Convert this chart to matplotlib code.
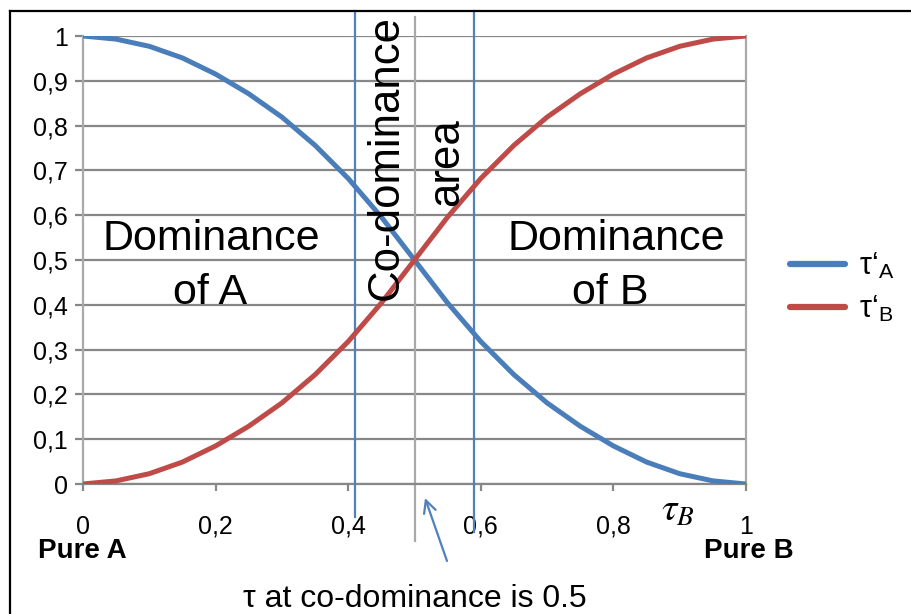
import matplotlib
matplotlib.use("Agg")
import matplotlib.pyplot as plt
from matplotlib.lines import Line2D

plt.rcParams["font.family"] = ["Liberation Sans", "DejaVu Sans"]
plt.rcParams["mathtext.fontset"] = "stix"

# values
tau_b = [0.0, 0.05, 0.1, 0.15, 0.2, 0.25, 0.3, 0.35, 0.4, 0.45, 0.5,
         0.55, 0.6, 0.65, 0.7, 0.75, 0.8, 0.85, 0.9, 0.95, 1.0]
tau_a_prime = [1.0, 0.993, 0.977, 0.951, 0.915, 0.871, 0.819, 0.756, 0.682, 0.596, 0.5,
               0.404, 0.318, 0.244, 0.181, 0.129, 0.085, 0.049, 0.023, 0.007, 0.0]
tau_b_prime = [0.0, 0.007, 0.023, 0.049, 0.085, 0.129, 0.181, 0.244, 0.318, 0.404, 0.5,
               0.596, 0.682, 0.756, 0.819, 0.871, 0.915, 0.951, 0.977, 0.993, 1.0]

x_ticks = [0, 0.2, 0.4, 0.6, 0.8, 1.0]
x_labels = ["0", "0,2", "0,4", "0,6", "0,8", "1"]
y_ticks = [0, 0.1, 0.2, 0.3, 0.4, 0.5, 0.6, 0.7, 0.8, 0.9, 1.0]
y_labels = ["0", "0,1", "0,2", "0,3", "0,4", "0,5", "0,6", "0,7", "0,8", "0,9", "1"]

codom_lo, codom_mid, codom_hi = 0.41, 0.5, 0.59

BLUE, RED = "#4a7ebb", "#be4b48"
VLINE = "#4f81bd"
GRID, LIGHT = "#878787", "#a9a9a9"

W, H = 912, 614


def fx(px):
    return px / W


def fy(py):
    return 1 - py / H


fig = plt.figure(figsize=(9.12, 6.14), dpi=100)
ax = fig.add_axes([fx(83), fy(484), 663 / W, 448 / H])

ax.plot(tau_b, tau_a_prime, color=BLUE, linewidth=3.6, solid_capstyle="butt",
        solid_joinstyle="round", label="τ‘$_\\mathregular{A}$", zorder=4)
ax.plot(tau_b, tau_b_prime, color=RED, linewidth=3.6, solid_capstyle="butt",
        solid_joinstyle="round", label="τ‘$_\\mathregular{B}$", zorder=4)

ax.set_xlim(0, 1)
ax.set_ylim(0, 1)
ax.set_xticks(x_ticks, x_labels)
ax.set_yticks(y_ticks, y_labels)
ax.grid(axis="y", color=GRID, linewidth=1.6)
ax.set_axisbelow(True)
ax.tick_params(axis="x", length=5, width=1.6, color=GRID, pad=17, labelsize=18)
ax.tick_params(axis="y", length=6, width=1.6, color=GRID, pad=5, labelsize=18)
ax.spines["top"].set_visible(False)
for side in ("left", "right", "bottom"):
    ax.spines[side].set_color(GRID)
    ax.spines[side].set_linewidth(1.6)
ax.spines["left"].set_color(LIGHT)
ax.spines["right"].set_color(LIGHT)

# co-dominance bounds, running past the axes
tr = ax.get_xaxis_transform()
ax.plot([codom_lo, codom_lo], [1.056, -0.074], transform=tr, color=VLINE,
        linewidth=1.6, clip_on=False, zorder=3)
ax.plot([codom_hi, codom_hi], [1.056, -0.107], transform=tr, color=VLINE,
        linewidth=1.6, clip_on=False, zorder=3)
ax.plot([codom_mid, codom_mid], [1.042, -0.127], transform=tr, color=LIGHT,
        linewidth=1.6, clip_on=False, zorder=2)

# region labels
big = dict(fontsize=31, ha="center", va="baseline")
fig.text(fx(211), fy(250), "Dominance", **big)
fig.text(fx(210), fy(304), "of A", **big)
fig.text(fx(616), fy(250), "Dominance", **big)
fig.text(fx(610), fy(304), "of B", **big)
fig.text(fx(398), fy(157), "Co-dominance", fontsize=31.5, rotation=90,
         rotation_mode="anchor", ha="center", va="baseline")
fig.text(fx(458), fy(162), "area", fontsize=31.5, rotation=90,
         rotation_mode="anchor", ha="center", va="baseline")

fig.text(fx(82), fy(558), "Pure A", fontsize=20, fontweight="bold",
         ha="center", va="baseline")
fig.text(fx(749), fy(558), "Pure B", fontsize=20, fontweight="bold",
         ha="center", va="baseline")
fig.text(fx(678), fy(511), r"$\tau_B$", fontsize=28, ha="center", va="center")

fig.text(fx(415), fy(607), "τ at co-dominance is 0.5", fontsize=23,
         ha="center", va="baseline")
ax.annotate("", xy=(fx(425), fy(498)), xycoords="figure fraction",
            xytext=(fx(447), fy(561)), textcoords="figure fraction",
            arrowprops=dict(arrowstyle="->", color=VLINE, lw=1.6,
                            mutation_scale=22, shrinkA=0, shrinkB=0))

leg = ax.legend(loc="center left", bbox_to_anchor=(fx(790), fy(288)),
                bbox_transform=fig.transFigure, frameon=False, fontsize=22,
                handlelength=1.8, handletextpad=0.45, labelspacing=0.4,
                borderpad=0, borderaxespad=0)
for line in leg.get_lines():
    line.set_linewidth(4.5)
    line.set_solid_capstyle("round")

# outer frame (top and left edges)
fig.add_artist(Line2D([fx(10), 1], [fy(11), fy(11)], color="black", linewidth=1.6))
fig.add_artist(Line2D([fx(10), fx(10)], [fy(11), 0], color="black", linewidth=1.6))

fig.savefig("out.png", dpi=100, facecolor="white")
